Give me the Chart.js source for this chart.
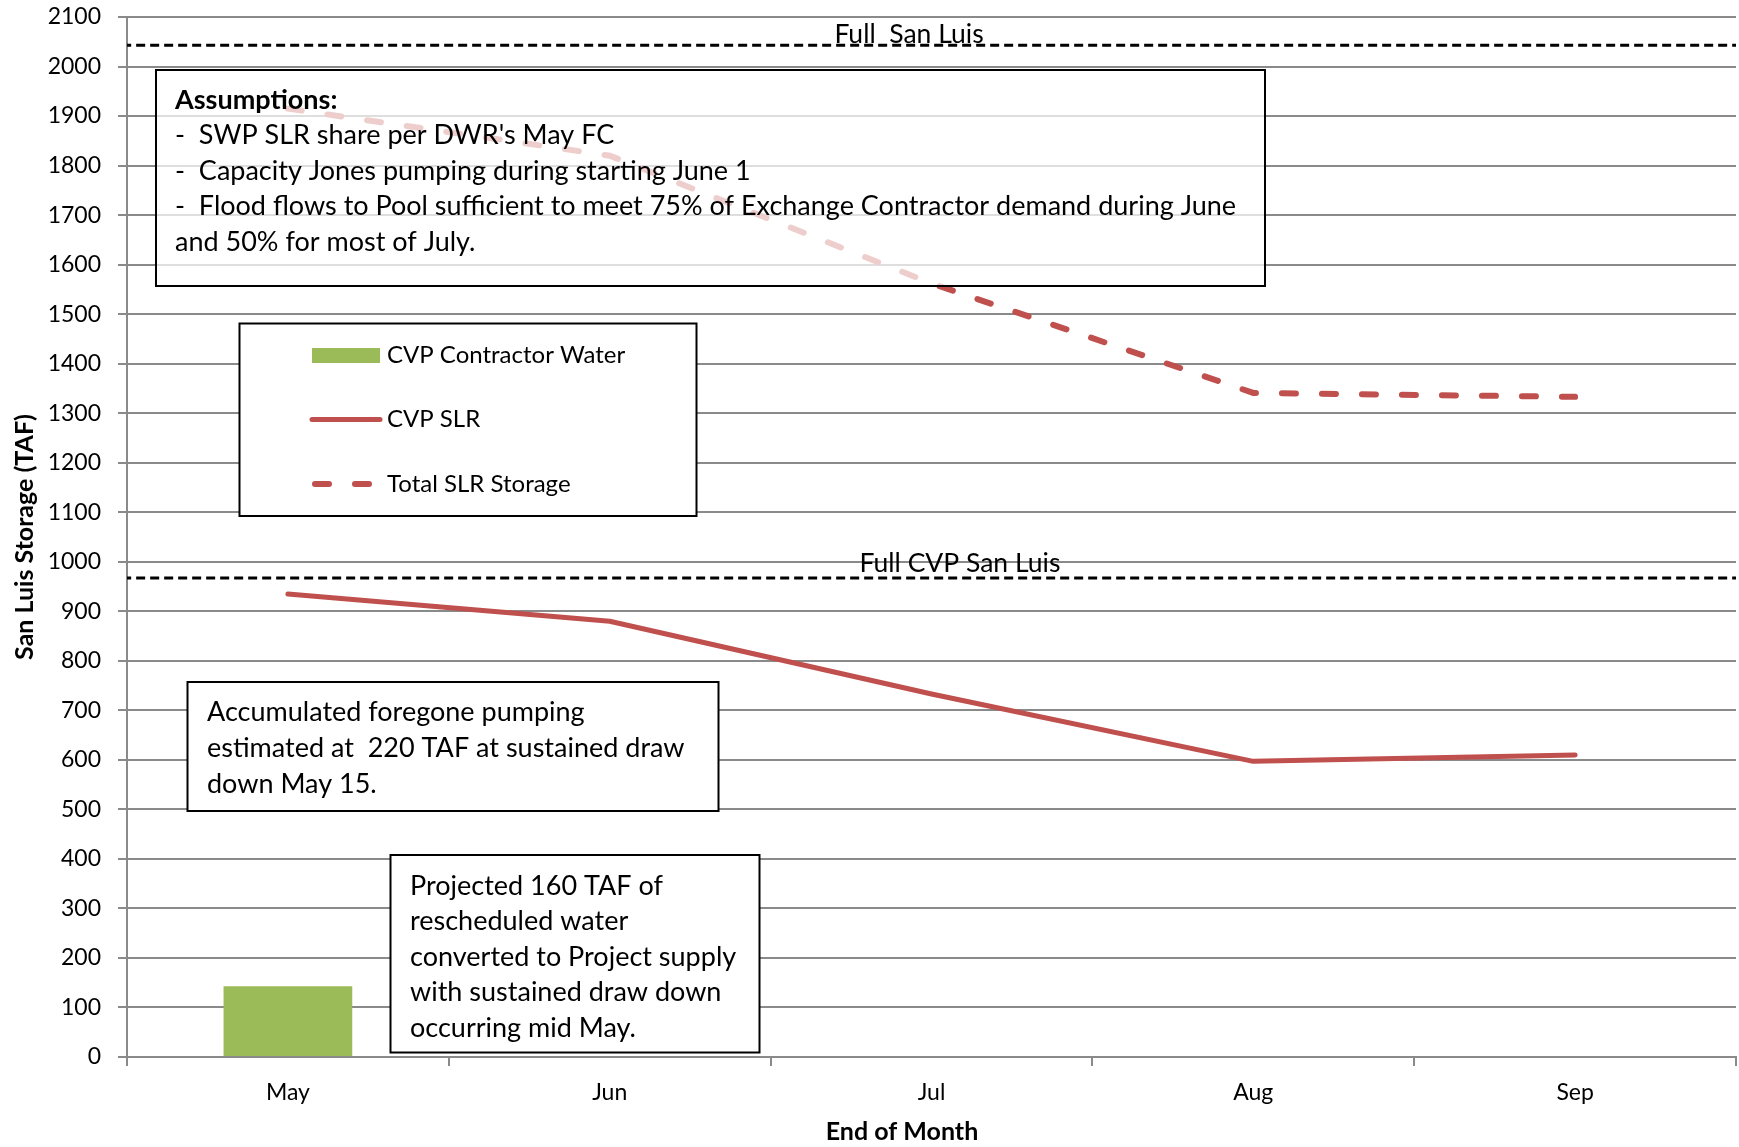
<!DOCTYPE html>
<html>
<head>
<meta charset="utf-8">
<script src="https://cdn.jsdelivr.net/npm/chart.js@4.4.0/dist/chart.umd.min.js"></script>
<style>
  html, body { margin: 0; padding: 0; background: #fff; }
  #wrap { width: 1739px; height: 1147px; }
</style>
</head>
<body>
<div id="wrap"><canvas id="c" width="1739" height="1147"></canvas></div>
<script>
// ---- data ----
const months = ['May', 'Jun', 'Jul', 'Aug', 'Sep'];
const contractorWater = [143, null, null, null, null];
const cvpSlr = [935, 880, 733, 597, 610];
const totalSlr = [1915, 1820, 1562, 1341, 1333];
const fullSanLuis = 2043;
const fullCvpSanLuis = 967;
const yMin = 0, yMax = 2100, yStep = 100;

const assumptionTitle = 'Assumptions:';
const assumptionLines = [
  "-  SWP SLR share per DWR's May FC",
  '-  Capacity Jones pumping during starting June 1',
  '-  Flood flows to Pool sufficient to meet 75% of Exchange Contractor demand during June',
  'and 50% for most of July.'
];
const foregoneLines = [
  'Accumulated foregone pumping',
  'estimated at  220 TAF at sustained draw',
  'down May 15.'
];
const projectedLines = [
  'Projected 160 TAF of',
  'rescheduled water',
  'converted to Project supply',
  'with sustained draw down',
  'occurring mid May.'
];

const FONT = "'Lato', 'Open Sans', sans-serif";
const RED = '#C0504D';
const GREEN = '#9BBB59';
const GRID = '#8a8a8a';

function textLines(ctx, lines, x, y0, step, font, align) {
  ctx.save();
  ctx.font = font;
  ctx.fillStyle = '#000';
  ctx.textAlign = align || 'left';
  ctx.textBaseline = 'middle';
  lines.forEach((t, i) => ctx.fillText(t, x, y0 + i * step));
  ctx.restore();
}

function box(ctx, x, y, w, h, fill) {
  ctx.save();
  ctx.fillStyle = fill;
  ctx.fillRect(x, y, w, h);
  ctx.strokeStyle = '#000';
  ctx.lineWidth = 2;
  ctx.strokeRect(x, y, w, h);
  ctx.restore();
}

const notesPlugin = {
  id: 'notes',
  afterDatasetsDraw(chart) {
    const ctx = chart.ctx;
    const ds = chart.data.datasets;
    const y = chart.scales.y;

    // reference line labels
    textLines(ctx, ['Full  San Luis'], 909, y.getPixelForValue(fullSanLuis) - 11, 0, '26.5px ' + FONT, 'center');
    textLines(ctx, ['Full CVP San Luis'], 960, y.getPixelForValue(fullCvpSanLuis) - 15, 0, '26.5px ' + FONT, 'center');

    // assumptions box (see-through)
    box(ctx, 156, 70, 1109, 216, 'rgba(255,255,255,0.72)');
    textLines(ctx, [assumptionTitle], 175, 100, 0, 'bold 27px ' + FONT);
    textLines(ctx, assumptionLines, 175, 135, 35.8, '27px ' + FONT);

    // legend box
    box(ctx, 239.5, 323.5, 457, 192.5, '#fff');
    const lx0 = 312, lx1 = 380, tx = 387;
    const rows = [355.5, 419.5, 484];
    ctx.save();
    ctx.fillStyle = ds[0].backgroundColor;
    ctx.fillRect(lx0, rows[0] - 7.5, lx1 - lx0, 15);
    ctx.strokeStyle = ds[1].borderColor;
    ctx.lineWidth = ds[1].borderWidth;
    ctx.lineCap = 'round';
    ctx.beginPath(); ctx.moveTo(lx0, rows[1]); ctx.lineTo(lx1, rows[1]); ctx.stroke();
    ctx.strokeStyle = ds[2].borderColor;
    ctx.lineWidth = ds[2].borderWidth;
    ctx.setLineDash(ds[2].borderDash);
    ctx.beginPath(); ctx.moveTo(lx0 + 3, rows[2]); ctx.lineTo(lx1, rows[2]); ctx.stroke();
    ctx.restore();
    ds.slice(0, 3).forEach((d, i) => textLines(ctx, [d.label], tx, rows[i], 0, '24px ' + FONT));

    // foregone pumping note
    box(ctx, 187.5, 682, 531, 129, '#fff');
    textLines(ctx, foregoneLines, 207, 712, 36, '27px ' + FONT);

    // projected note
    box(ctx, 390.5, 855, 369, 197.5, '#fff');
    textLines(ctx, projectedLines, 410, 886, 35.5, '27px ' + FONT);

    // axis titles
    textLines(ctx, ['End of Month'], 902, 1132, 0, 'bold 25px ' + FONT, 'center');
    ctx.save();
    ctx.translate(25, 537);
    ctx.rotate(-Math.PI / 2);
    textLines(ctx, ['San Luis Storage (TAF)'], 0, 0, 0, 'bold 25px ' + FONT, 'center');
    ctx.restore();
  }
};

new Chart(document.getElementById('c'), {
  type: 'bar',
  data: {
    labels: months,
    datasets: [
      {
        label: 'CVP Contractor Water',
        data: contractorWater,
        backgroundColor: GREEN,
        barPercentage: 0.4,
        categoryPercentage: 1,
        grouped: false,
        order: 3
      },
      {
        type: 'line',
        label: 'CVP SLR',
        data: cvpSlr,
        borderColor: RED,
        backgroundColor: RED,
        borderWidth: 5,
        borderCapStyle: 'round',
        borderJoinStyle: 'round',
        pointRadius: 0,
        tension: 0,
        order: 1
      },
      {
        type: 'line',
        label: 'Total SLR Storage',
        data: totalSlr,
        borderColor: RED,
        backgroundColor: RED,
        borderWidth: 6,
        borderDash: [14, 26],
        borderCapStyle: 'round',
        pointRadius: 0,
        tension: 0,
        order: 1
      },
      {
        type: 'line',
        label: 'Full San Luis',
        xAxisID: 'x2',
        data: [{ x: 0, y: fullSanLuis }, { x: 1, y: fullSanLuis }],
        borderColor: '#000',
        borderWidth: 3,
        borderDash: [9, 5],
        pointRadius: 0,
        order: 2
      },
      {
        type: 'line',
        label: 'Full CVP San Luis',
        xAxisID: 'x2',
        data: [{ x: 0, y: fullCvpSanLuis }, { x: 1, y: fullCvpSanLuis }],
        borderColor: '#000',
        borderWidth: 3,
        borderDash: [9, 5],
        pointRadius: 0,
        order: 2
      }
    ]
  },
  options: {
    responsive: false,
    animation: false,
    layout: { padding: { left: 0, top: 17, right: 3, bottom: 0 } },
    plugins: {
      legend: { display: false },
      tooltip: { enabled: false }
    },
    scales: {
      x: {
        offset: true,
        grid: {
          offset: true,
          drawOnChartArea: false,
          drawTicks: true,
          tickLength: 9,
          color: GRID,
          lineWidth: 2
        },
        border: { color: GRID, width: 2 },
        ticks: {
          color: '#000',
          padding: 13,
          font: { family: FONT, size: 23 }
        },
        afterFit(scale) { scale.height = 90; }
      },
      x2: {
        type: 'linear',
        display: false,
        offset: false,
        min: 0.003,
        max: 1
      },
      y: {
        min: yMin,
        max: yMax,
        ticks: {
          stepSize: yStep,
          color: '#000',
          padding: 17,
          font: { family: FONT, size: 23 },
          callback: v => String(v)
        },
        grid: {
          color: GRID,
          lineWidth: 2,
          tickLength: 9
        },
        border: { color: GRID, width: 2 },
        afterFit(scale) {
          scale.width = 127;
          scale.paddingTop = 0;
          scale.paddingBottom = 0;
        }
      }
    }
  },
  plugins: [notesPlugin]
});
</script>
</body>
</html>
